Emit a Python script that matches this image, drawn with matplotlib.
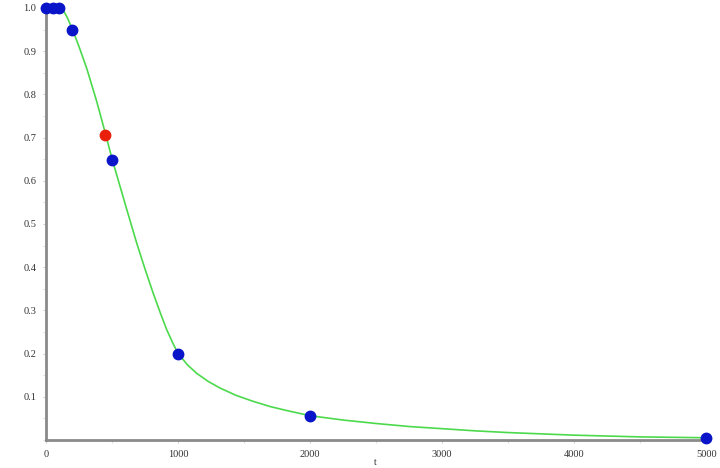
import matplotlib
matplotlib.use('Agg')
import matplotlib.pyplot as plt
from matplotlib.ticker import MultipleLocator

# measured points
pts_x = [0, 50, 100, 200, 500, 1000, 2000, 5000]
pts_y = [1.0, 1.0, 1.0, 0.95, 0.648, 0.2, 0.056, 0.005]

# highlighted point
red_x = [447]
red_y = [0.707]

# fitted curve
curve_x = [0, 100, 130, 160, 200, 250, 308, 384, 447, 502, 561, 624, 687,
           750, 813, 870, 914, 960, 1000, 1070, 1141, 1230, 1318, 1440, 1571,
           1700, 1823, 2000, 2250, 2500, 2750, 3000, 3250, 3500, 3750, 4000,
           4250, 4500, 4750, 5000]
curve_y = [1.0, 1.0, 0.995, 0.978, 0.95, 0.91, 0.86, 0.783, 0.712, 0.648,
           0.586, 0.52, 0.455, 0.395, 0.338, 0.29, 0.255, 0.224, 0.2, 0.174,
           0.154, 0.135, 0.12, 0.103, 0.089, 0.077, 0.068, 0.056, 0.046,
           0.038, 0.031, 0.026, 0.021, 0.017, 0.014, 0.011, 0.009, 0.007,
           0.006, 0.005]

xticks = [0, 1000, 2000, 3000, 4000, 5000]
yticks = [0.1, 0.2, 0.3, 0.4, 0.5, 0.6, 0.7, 0.8, 0.9, 1.0]


def main():
    fig = plt.figure(figsize=(7.2, 4.68), dpi=100)
    fig.patch.set_facecolor('white')
    ax = fig.add_axes([0.064, 0.06, 0.917, 0.923])

    ax.plot(curve_x, curve_y, color='#4cd94c', lw=1.2, zorder=2, clip_on=False)
    ax.plot(pts_x, pts_y, 'o', color='#0a14c8', ms=7.5, zorder=3, clip_on=False)
    ax.plot(red_x, red_y, 'o', color='#e8200c', ms=7.5, zorder=3, clip_on=False)

    ax.set_xlim(0, 5000)
    ax.set_ylim(0, 1.0)
    ax.set_xticks(xticks)
    ax.set_xticklabels([str(v) for v in xticks])
    ax.set_yticks(yticks)
    ax.set_yticklabels(['%.1f' % v for v in yticks])
    ax.xaxis.set_minor_locator(MultipleLocator(500))
    ax.yaxis.set_minor_locator(MultipleLocator(0.05))

    for s in ['top', 'right']:
        ax.spines[s].set_visible(False)
    for s in ['left', 'bottom']:
        ax.spines[s].set_color('#8a8a8a')
        ax.spines[s].set_linewidth(2)

    ax.tick_params(axis='both', which='major', length=2, width=0.8,
                   color='#cfcfcf', labelsize=7.5, labelcolor='#333333',
                   pad=5)
    ax.tick_params(axis='both', which='minor', length=2, width=0.8,
                   color='#dddddd')
    for lab in ax.get_xticklabels() + ax.get_yticklabels():
        lab.set_family('Liberation Serif')

    fig.text(0.521, 0.002, 't', fontsize=7, family='Liberation Serif',
             color='#333333', ha='center', va='bottom')

    fig.savefig('out.png', dpi=100)


if __name__ == '__main__':
    main()
